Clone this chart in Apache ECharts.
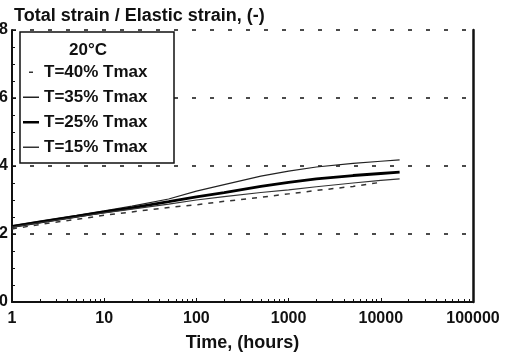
<!DOCTYPE html>
<html>
<head>
<meta charset="utf-8">
<script src="https://cdn.jsdelivr.net/npm/echarts@6/dist/echarts.min.js"></script>
<style>
  html, body { margin: 0; padding: 0; background: #fff; }
  #chart { width: 507px; height: 360px; }
</style>
</head>
<body>
<div id="chart"></div>
<script>
// time in hours (log axis)
const hours = [1, 2, 5, 10, 20, 50, 100, 200, 500, 1000, 2000, 5000, 10000, 16000];
// ratio total strain / elastic strain
const t40 = [1.215, 1.228, 1.243, 1.255, 1.265, 1.278, 1.286, 1.296, 1.308, 1.318, 1.328, 1.340, 1.352];
const t35 = [1.225, 1.238, 1.255, 1.268, 1.282, 1.303, 1.326, 1.345, 1.370, 1.385, 1.397, 1.408, 1.414, 1.418];
const t25 = [1.222, 1.235, 1.252, 1.265, 1.277, 1.295, 1.309, 1.322, 1.340, 1.352, 1.362, 1.372, 1.378, 1.382];
const t15 = [1.220, 1.233, 1.250, 1.262, 1.273, 1.288, 1.300, 1.310, 1.322, 1.330, 1.339, 1.350, 1.358, 1.362];
const names = ['T=40% Tmax', 'T=35% Tmax', 'T=25% Tmax', 'T=15% Tmax'];

const font = '"Liberation Sans", Arial, sans-serif';

function pairs(vals) {
  return vals.map((v, i) => [hours[i], v]);
}

// legend marks: a short bar, the extra move points keep the box size
const lineIcon = 'path://M0,0 M0,7.5 L16,7.5 L16,9 L0,9 Z M16,17';
const thickIcon = 'path://M0,0 M0,7 L16,7 L16,9.5 L0,9.5 Z M16,17';
const dashIcon = 'path://M0,0 M6,7.5 L10,7.5 L10,9 L6,9 Z M16,17';

const myChart = echarts.init(document.getElementById('chart'));

var option = {
  animation: false,
  backgroundColor: '#fff',
  textStyle: { fontFamily: font },
  title: {
    text: 'Total strain / Elastic strain, (-)',
    left: 9,
    top: 2,
    textStyle: { fontSize: 18, fontWeight: 'bold', color: '#111', fontFamily: font }
  },
  grid: { left: 12, right: 34, top: 30, bottom: 58, outerBoundsMode: 'none', containLabel: false },
  legend: {
    data: [
      { name: names[0], icon: dashIcon },
      { name: names[1], icon: lineIcon },
      { name: names[2], icon: thickIcon },
      { name: names[3], icon: lineIcon }
    ],
    orient: 'vertical',
    left: 23,
    top: 64,
    padding: 0,
    itemWidth: 16,
    itemHeight: 17,
    itemGap: 8,
    z: 5,
    textStyle: { fontSize: 17, fontWeight: 'bold', color: '#111', fontFamily: font }
  },
  graphic: [
    {
      type: 'rect',
      shape: { x: 20, y: 32, width: 154, height: 131 },
      style: { fill: '#fff', stroke: '#111', lineWidth: 1.5 },
      z: 3
    },
    {
      type: 'text',
      x: 88,
      y: 42,
      style: { text: '20°C', fontSize: 17, fontWeight: 'bold', fill: '#111', fontFamily: font, textAlign: 'center' },
      z: 10
    }
  ],
  xAxis: {
    type: 'log',
    logBase: 10,
    min: 1,
    max: 100000,
    name: 'Time, (hours)',
    nameLocation: 'middle',
    nameGap: 32,
    nameTextStyle: { fontSize: 18, fontWeight: 'bold', color: '#111', fontFamily: font },
    axisLine: { lineStyle: { color: '#111', width: 2 } },
    axisTick: { inside: true, length: 4, lineStyle: { color: '#111' } },
    minorTick: { show: true, splitNumber: 9, length: 3, lineStyle: { color: '#111' } },
    axisLabel: {
      fontSize: 16, fontWeight: 'bold', color: '#111', margin: 9, fontFamily: font,
      formatter: v => String(Math.round(v))
    },
    splitLine: { show: false }
  },
  yAxis: [
    {
      type: 'value',
      min: 1,
      max: 1.8,
      interval: 0.2,
      axisLine: { show: true, lineStyle: { color: '#111', width: 2 } },
      axisTick: { show: true, inside: true, length: 4, lineStyle: { color: '#111' } },
      minorTick: { show: true, splitNumber: 4, length: 3, lineStyle: { color: '#111' } },
      axisLabel: {
        fontSize: 16, fontWeight: 'bold', color: '#111', margin: 4, fontFamily: font,
        formatter: v => v.toFixed(1)
      },
      splitLine: { show: true, lineStyle: { color: '#111', type: [4, 14], width: 1.5 } }
    },
    {
      type: 'value',
      min: 1,
      max: 1.8,
      interval: 0.2,
      position: 'right',
      axisLine: { show: true, lineStyle: { color: '#111', width: 2.5 } },
      axisTick: { show: false },
      axisLabel: { show: false },
      splitLine: { show: false }
    }
  ],
  series: [
    {
      name: names[0], type: 'line', symbol: 'none', data: pairs(t40),
      lineStyle: { color: '#333', width: 1.5, type: [5, 6] }, itemStyle: { color: '#333' }
    },
    {
      name: names[1], type: 'line', symbol: 'none', data: pairs(t35),
      lineStyle: { color: '#222', width: 1.2 }, itemStyle: { color: '#222' }
    },
    {
      name: names[2], type: 'line', symbol: 'none', data: pairs(t25),
      lineStyle: { color: '#000', width: 2.8 }, itemStyle: { color: '#000' }
    },
    {
      name: names[3], type: 'line', symbol: 'none', data: pairs(t15),
      lineStyle: { color: '#333', width: 1.2 }, itemStyle: { color: '#333' }
    }
  ]
};

myChart.setOption(option);
</script>
</body>
</html>
